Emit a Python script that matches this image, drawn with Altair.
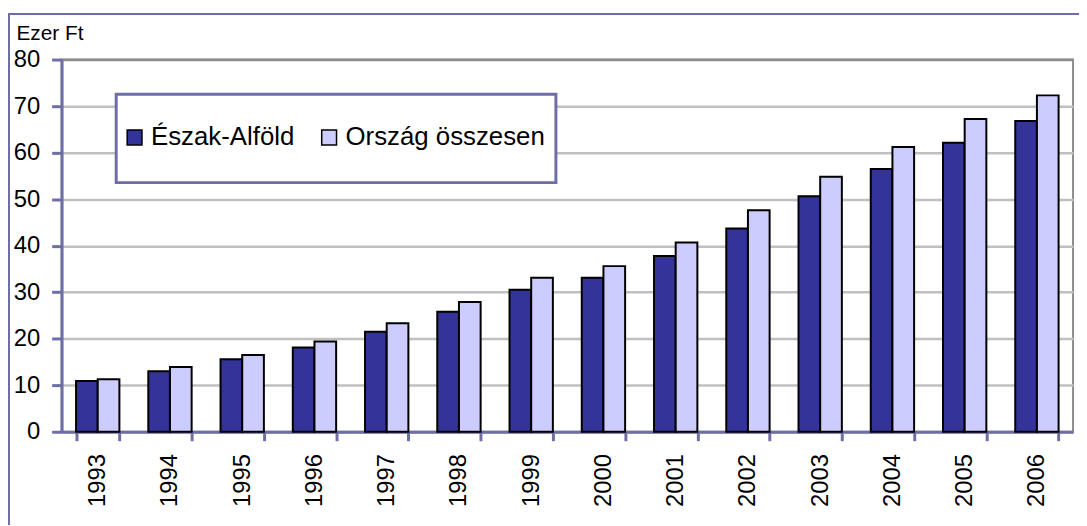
import altair as alt
import pandas as pd

years = ["1993", "1994", "1995", "1996", "1997", "1998", "1999",
         "2000", "2001", "2002", "2003", "2004", "2005", "2006"]
eszak_alfold = [10.9, 13.0, 15.6, 18.1, 21.5, 25.8, 30.5,
                33.1, 37.8, 43.7, 50.6, 56.5, 62.1, 66.8]
orszag_osszesen = [11.3, 13.9, 16.5, 19.4, 23.3, 27.9, 33.1,
                   35.6, 40.7, 47.6, 54.8, 61.2, 67.2, 72.3]
series_names = ["Észak-Alföld", "Ország összesen"]
series_colors = ["#333399", "#CCCCFF"]
y_ticks = [0, 10, 20, 30, 40, 50, 60, 70, 80]

rows = []
for i, yr in enumerate(years):
    rows.append({"year": yr, "series": series_names[0], "value": eszak_alfold[i]})
    rows.append({"year": yr, "series": series_names[1], "value": orszag_osszesen[i]})
df = pd.DataFrame(rows)

FONT = "Liberation Sans"
AXIS_COLOR = "#6E6EA6"

# legend symbol: small square at the left of a tall (invisible) symbol box
LEGEND_SYMBOL = "M-1.03,-1M-1.03,1M-1.03,-0.238H-0.556V0.238H-1.03Z"

bars = alt.Chart(df).mark_bar(stroke="black", strokeWidth=2).encode(
    x=alt.X(
        "year:N", sort=years,
        scale=alt.Scale(paddingInner=0.4, paddingOuter=0.2),
        axis=alt.Axis(
            title=None, labelAngle=270, labelFontSize=24, labelColor="black",
            tickBand="extent", ticks=True, tickSize=9, tickWidth=3,
            tickColor=AXIS_COLOR, domainColor=AXIS_COLOR, domainWidth=3,
            grid=False, labelPadding=13,
        ),
    ),
    xOffset=alt.XOffset("series:N", sort=series_names,
                        scale=alt.Scale(paddingInner=0, paddingOuter=0)),
    y=alt.Y(
        "value:Q",
        scale=alt.Scale(domain=[0, 80], nice=False),
        axis=alt.Axis(
            values=y_ticks, title="Ezer Ft", titleAngle=0, titleX=-46, titleY=-20,
            titleAlign="left", titleBaseline="alphabetic", titleFontSize=21,
            titleFontWeight="normal", titleColor="black",
            labelFontSize=24, labelColor="black", labelPadding=12,
            tickSize=10, tickWidth=3, tickColor=AXIS_COLOR,
            domainColor=AXIS_COLOR, domainWidth=3,
            grid=True, gridWidth=2.5,
            gridColor={"condition": {"test": "datum.value === 80", "value": "#8C8C8C"},
                       "value": "#C0C0C0"},
        ),
    ),
    fill=alt.Fill(
        "series:N", sort=series_names,
        scale=alt.Scale(domain=series_names, range=series_colors),
        legend=alt.Legend(
            title=None, orient="none", legendX=55, legendY=35,
            direction="horizontal", padding=11,
            strokeColor=AXIS_COLOR, fillColor="white",
            symbolType=LEGEND_SYMBOL,
            symbolSize=3969, symbolStrokeColor="black", symbolStrokeWidth=1.5,
            labelOffset={"expr": "-41"},
            labelFontSize=26, labelColor="black", labelLimit=500,
            columnPadding=24,
        ),
    ),
)

frame = alt.Chart(alt.Data(values=[{"f": 1}])).mark_rect(
    fill=None, stroke=AXIS_COLOR, strokeWidth=2
).encode(
    x=alt.value(-53), x2=alt.value(1040),
    y=alt.value(-46), y2=alt.value(480),
)

chart = alt.layer(bars, frame).properties(
    width=1019, height=375,
    autosize=alt.AutoSizeParams(type="none"),
    padding={"left": 54, "top": 50, "right": 6, "bottom": 92},
    background="white",
).configure_view(
    stroke="#8C8C8C", strokeWidth=2
).configure_axis(
    labelFont=FONT, titleFont=FONT
).configure_legend(
    labelFont=FONT, strokeWidth=3
)

chart.save("out.html", embed_options={"renderer": "svg", "actions": False})
